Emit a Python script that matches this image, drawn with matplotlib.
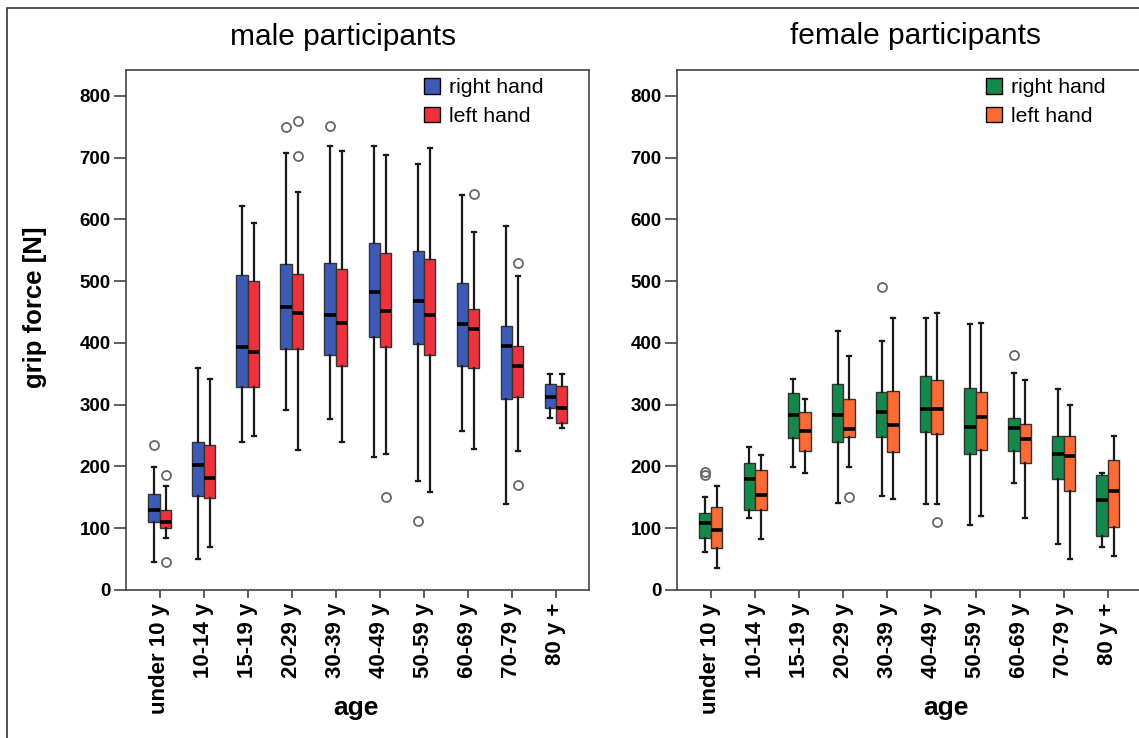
import matplotlib
matplotlib.use("Agg")
from matplotlib import pyplot as plt
from matplotlib.patches import Patch, Rectangle

plt.rcParams['font.family'] = ['Liberation Sans', 'DejaVu Sans']

AGE_GROUPS = ["under 10 y", "10-14 y", "15-19 y", "20-29 y", "30-39 y",
              "40-49 y", "50-59 y", "60-69 y", "70-79 y", "80 y +"]

# (whisker low, q1, median, q3, whisker high) per age group, grip force in N
male_right = [(45, 110, 130, 156, 199), (50, 153, 202, 240, 360), (239, 328, 394, 510, 622),
              (291, 390, 459, 528, 707), (277, 381, 446, 529, 719), (216, 409, 482, 562, 719),
              (176, 399, 468, 549, 690), (258, 363, 430, 497, 639), (140, 310, 395, 428, 589),
              (279, 294, 313, 334, 350)]
male_left = [(85, 100, 110, 129, 169), (70, 149, 182, 234, 341), (249, 328, 386, 501, 595),
             (227, 390, 449, 512, 645), (239, 362, 432, 520, 711), (220, 394, 452, 545, 705),
             (158, 381, 445, 536, 716), (229, 360, 422, 455, 580), (225, 312, 362, 395, 509),
             (262, 271, 295, 330, 350)]
female_right = [(61, 85, 108, 125, 151), (116, 130, 180, 205, 232), (199, 246, 284, 319, 342),
                (141, 240, 284, 334, 419), (153, 247, 288, 320, 403), (140, 256, 293, 347, 440),
                (105, 220, 264, 327, 430), (173, 225, 263, 279, 351), (75, 180, 220, 249, 325),
                (70, 88, 146, 186, 190)]
female_left = [(35, 68, 97, 135, 169), (82, 130, 154, 195, 219), (190, 225, 257, 288, 310),
               (199, 248, 260, 310, 379), (148, 224, 267, 322, 440), (140, 253, 293, 340, 448),
               (120, 227, 280, 320, 433), (116, 205, 245, 269, 340), (50, 160, 217, 249, 300),
               (55, 102, 161, 210, 249)]

# outliers per age group
male_right_out = [[235], [], [], [750], [751], [], [111], [], [], []]
male_left_out = [[187, 45], [], [], [760, 702], [], [150], [], [642], [529, 170], []]
female_right_out = [[191, 187], [], [], [], [491], [], [], [380], [], []]
female_left_out = [[], [], [], [150], [], [110], [], [], [], []]

W, H = 1139, 738
fig = plt.figure(figsize=(W / 100, H / 100), dpi=100)


def make_stats(boxes, outliers):
  return [dict(whislo=b[0], q1=b[1], med=b[2], q3=b[3], whishi=b[4], fliers=o)
          for b, o in zip(boxes, outliers)]


def draw_panel(ax, right, right_out, left, left_out, colors):
  pos = list(range(len(AGE_GROUPS)))
  for boxes, outs, shift, color in [(right, right_out, -0.13, colors[0]),
                                    (left, left_out, 0.13, colors[1])]:
    ax.bxp(make_stats(boxes, outs), positions=[p + shift for p in pos], widths=0.26,
           patch_artist=True, manage_ticks=False, capwidths=0.09,
           boxprops=dict(facecolor=color, edgecolor='#333333', linewidth=1),
           medianprops=dict(color='black', linewidth=2.6),
           whiskerprops=dict(color='#1a1a1a', linewidth=1.6),
           capprops=dict(color='#1a1a1a', linewidth=1.6),
           flierprops=dict(marker='o', markerfacecolor='none', markeredgecolor='#666666',
                           markersize=6.5, markeredgewidth=1.3))
  ax.set_xlim(-0.77, 9.75)
  ax.set_ylim(0, 842)
  ax.set_yticks(range(0, 900, 100))
  ax.set_xticks(pos)
  ax.set_xticklabels(AGE_GROUPS, rotation=90, fontsize=16, fontweight='bold')
  for lbl in ax.get_yticklabels():
    lbl.set_fontweight('bold')
  ax.tick_params(axis='y', length=9, width=1.2, pad=2, labelsize=13.5, color='#444444')
  ax.tick_params(axis='x', length=6, width=1.2, pad=3, color='#444444')
  for sp in ax.spines.values():
    sp.set_color('#444444')
    sp.set_linewidth(1.2)


def add_legend(ax, x, y, colors):
  handles = [Patch(facecolor=colors[0], edgecolor='black', label='right hand'),
             Patch(facecolor=colors[1], edgecolor='black', label='left hand')]
  ax.legend(handles=handles, loc='upper left', bbox_to_anchor=(x / W, 1 - y / H),
            bbox_transform=fig.transFigure, frameon=False, fontsize=15.3,
            handlelength=0.75, handleheight=0.75, handletextpad=0.45,
            labelspacing=0.45, borderpad=0, borderaxespad=0)


male_colors = ['#3D5BB6', '#EF313D']
female_colors = ['#14894B', '#FD6A33']

ax1 = fig.add_axes([126 / W, 1 - 590 / H, 463 / W, 520 / H])
draw_panel(ax1, male_right, male_right_out, male_left, male_left_out, male_colors)
add_legend(ax1, 424, 78, male_colors)

ax2 = fig.add_axes([677 / W, 1 - 590 / H, 464 / W, 520 / H])
draw_panel(ax2, female_right, female_right_out, female_left, female_left_out, female_colors)
add_legend(ax2, 986, 78, female_colors)

fig.text(343 / W, 1 - 37 / H, 'male participants', ha='center', va='center', fontsize=21.5)
fig.text(915 / W, 1 - 36 / H, 'female participants', ha='center', va='center', fontsize=21.5)
fig.text(35 / W, 1 - 307 / H, 'grip force [N]', ha='center', va='center', rotation=90,
         fontsize=18.5, fontweight='bold')
fig.text(356 / W, 1 - 708 / H, 'age', ha='center', va='center', fontsize=19, fontweight='bold')
fig.text(946 / W, 1 - 708 / H, 'age', ha='center', va='center', fontsize=19, fontweight='bold')

# outer frame of the composite figure
fig.add_artist(Rectangle((7 / W, -0.1), 1.2, 1.1 - 8 / H, transform=fig.transFigure,
                         fill=False, edgecolor='#333333', linewidth=1.2))

fig.savefig('out.png', dpi=100)
